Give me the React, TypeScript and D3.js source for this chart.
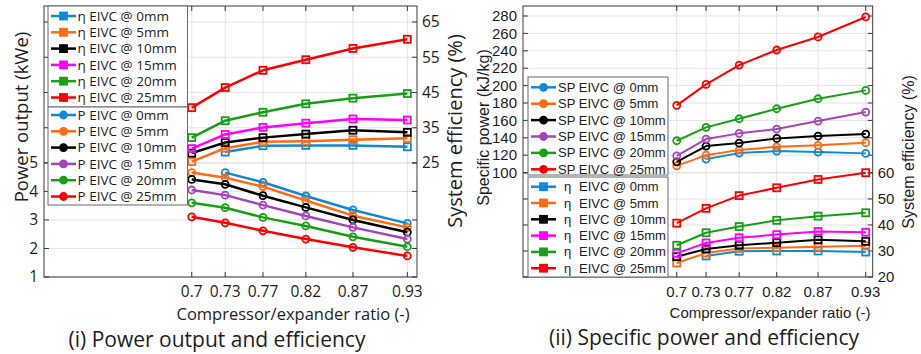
import React from "react";
import * as d3 from "d3";

// Compressor/expander ratio categories
const ratios = [0.7, 0.7357, 0.776, 0.8217, 0.872, 0.93];
const ratioLabels = ["0.7", "0.73", "0.77", "0.82", "0.87", "0.93"];
const lifts = ["0mm", "5mm", "10mm", "15mm", "20mm", "25mm"];

// System efficiency (%) per EIVC lift
const eff0 = [null, 28.1, 29.9, 30.0, 30.0, 29.6];
const eff5 = [25.4, 29.2, 31.0, 31.2, 31.6, 32.0];
const eff10 = [27.8, 30.8, 32.2, 33.2, 34.3, 33.7];
const eff15 = [29.1, 33.1, 35.1, 36.3, 37.5, 37.2];
const eff20 = [32.2, 37.0, 39.4, 41.8, 43.4, 44.7];
const eff25 = [40.7, 46.4, 51.3, 54.3, 57.5, 60.1];

// Power output (kWe) per EIVC lift
const pow0 = [null, 4.66, 4.32, 3.84, 3.35, 2.88];
const pow5 = [4.66, 4.48, 4.17, 3.68, 3.15, 2.74];
const pow10 = [4.42, 4.25, 3.85, 3.44, 3.0, 2.57];
const pow15 = [4.05, 3.87, 3.52, 3.14, 2.74, 2.33];
const pow20 = [3.6, 3.43, 3.09, 2.79, 2.41, 2.06];
const pow25 = [3.11, 2.9, 2.62, 2.33, 2.04, 1.74];

// Specific power (kJ/kg) per EIVC lift
const sp0 = [null, 115.5, 122.4, 124.7, 123.6, 122.1];
const sp5 = [107.8, 120.1, 125.9, 129.7, 131.3, 134.3];
const sp10 = [112.4, 130.5, 133.9, 139.3, 142.0, 144.3];
const sp15 = [119.3, 138.5, 145.1, 150.0, 159.2, 169.6];
const sp20 = [136.6, 152.0, 161.9, 173.4, 184.9, 194.5];
const sp25 = [177.3, 201.4, 223.6, 240.9, 255.9, 278.9];

const effSeries = [eff0, eff5, eff10, eff15, eff20, eff25];
const powSeries = [pow0, pow5, pow10, pow15, pow20, pow25];
const spSeries = [sp0, sp5, sp10, sp15, sp20, sp25];

// Tick values
const powTicks = [1, 2, 3, 4, 5];
const effTicksA = [25, 35, 45, 55, 65];
const spTicks = [100, 120, 140, 160, 180, 200, 220, 240, 260, 280];
const effTicksB = [20, 30, 40, 50, 60];

const effColors = ["#1089d6", "#ff6a14", "#000000", "#ff00ff", "#17a017", "#ff0000"];
const circColors = ["#1089d6", "#ff6a14", "#000000", "#a446b8", "#17a017", "#ff0000"];

const FONT_A = "'Open Sans', sans-serif";
const FONT_B = "'Liberation Sans', Arial, sans-serif";
const INK = "#1e1e1e";
const GRID = "#e3e3e3";
const AXIS = "#3a3a3a";

type Scale = d3.ScaleLinear<number, number>;

function Marker({ kind, x, y, color, size, fill }: { kind: string; x: number; y: number; color: string; size: number; fill: string }) {
  if (kind === "square") {
    return <rect x={x - size / 2} y={y - size / 2} width={size} height={size} fill={fill} stroke={color} strokeWidth={1.8} />;
  }
  return <circle cx={x} cy={y} r={size / 2} fill={fill} stroke={color} strokeWidth={1.8} />;
}

function Series({ values, color, kind, x, y, lw }: { values: (number | null)[]; color: string; kind: string; x: Scale; y: Scale; lw: number }) {
  const pts = ratios.map((r, i) => [r, values[i]] as [number, number | null]);
  const line = d3
    .line<[number, number | null]>()
    .defined((d) => d[1] != null)
    .x((d) => x(d[0]))
    .y((d) => y(d[1] as number));
  return (
    <g>
      <path d={line(pts) || ""} fill="none" stroke={color} strokeWidth={lw} strokeLinejoin="round" />
      {pts
        .filter((d) => d[1] != null)
        .map((d, i) => (
          <Marker key={i} kind={kind} x={x(d[0])} y={y(d[1] as number)} color={color} size={7} fill="none" />
        ))}
    </g>
  );
}

function Frame({
  x, yL, yR, ticksL, ticksR, labelL, labelR, font, fs, left, right, top, bottom,
}: {
  x: Scale; yL: Scale; yR: Scale; ticksL: number[]; ticksR: number[]; labelL: number[]; labelR: number[];
  font: string; fs: number; left: number; right: number; top: number; bottom: number;
}) {
  const tl = 5;
  const yPos = [...ticksL.map((t) => yL(t)), ...ticksR.map((t) => yR(t))];
  return (
    <g>
      {/* grid */}
      {ratios.map((r, i) => (
        <line key={"gx" + i} x1={x(r)} x2={x(r)} y1={top} y2={bottom} stroke={GRID} strokeWidth={1} />
      ))}
      {yPos.map((p, i) => (
        <line key={"gy" + i} x1={left} x2={right} y1={p} y2={p} stroke={GRID} strokeWidth={1} />
      ))}
      {/* ticks on both sides */}
      {yPos.map((p, i) => (
        <g key={"t" + i}>
          <line x1={left} x2={left + tl} y1={p} y2={p} stroke={AXIS} />
          <line x1={right} x2={right - tl} y1={p} y2={p} stroke={AXIS} />
        </g>
      ))}
      {ratios.map((r, i) => (
        <g key={"tx" + i}>
          <line x1={x(r)} x2={x(r)} y1={bottom} y2={bottom - tl} stroke={AXIS} />
          <line x1={x(r)} x2={x(r)} y1={top} y2={top + tl} stroke={AXIS} />
        </g>
      ))}
      <rect x={left} y={top} width={right - left} height={bottom - top} fill="none" stroke={AXIS} strokeWidth={1} />
      {/* tick labels */}
      {labelL.map((t, i) => (
        <text key={"ll" + i} x={left - 6} y={yL(t)} dy="0.35em" textAnchor="end" fontFamily={font} fontSize={fs} fill={INK}>
          {String(t)}
        </text>
      ))}
      {labelR.map((t, i) => (
        <text key={"lr" + i} x={right + 5} y={yR(t)} dy="0.35em" textAnchor="start" fontFamily={font} fontSize={fs} fill={INK}>
          {String(t)}
        </text>
      ))}
      {ratios.map((r, i) => (
        <text key={"lx" + i} x={x(r)} y={292} dy="0.35em" textAnchor="middle" fontFamily={font} fontSize={fs} fill={INK}>
          {ratioLabels[i]}
        </text>
      ))}
    </g>
  );
}

function LegendBox({
  x0, x1, y0, y1, rows, kind, colors, labels, font, fs, textX, etaGap,
}: {
  x0: number; x1: number; y0: number; y1: number; rows: number[]; kind: string; colors: string[];
  labels: string[]; font: string; fs: number; textX: number; etaGap?: number;
}) {
  const lx0 = x0 + 3;
  const lx1 = x0 + 28;
  const mx = (lx0 + lx1) / 2;
  return (
    <g>
      <rect x={x0} y={y0} width={x1 - x0} height={y1 - y0} fill="#ffffff" stroke="#6a6a6a" strokeWidth={1} />
      {rows.map((ry, i) => (
        <g key={i}>
          <line x1={lx0} x2={lx1} y1={ry} y2={ry} stroke={colors[i]} strokeWidth={2.5} />
          <Marker kind={kind} x={mx} y={ry} color={colors[i]} size={7} fill={colors[i]} />
          {etaGap ? (
            <text y={ry} dy="0.35em" fontFamily={font} fontSize={fs} fill={INK}>
              <tspan x={textX}>η</tspan>
              <tspan x={textX + etaGap}>{labels[i]}</tspan>
            </text>
          ) : (
            <text x={textX} y={ry} dy="0.35em" fontFamily={font} fontSize={fs} fill={INK}>
              {labels[i]}
            </text>
          )}
        </g>
      ))}
    </g>
  );
}

export default function App() {
  // Panel (i): power output and efficiency
  const A = { left: 44, right: 417, top: 6, bottom: 277 };
  const xA = d3.scaleLinear().domain([0.5424, 0.9403]).range([A.left, A.right]);
  const yPow = d3.scaleLinear().domain([1, 10.5]).range([A.bottom, A.top]);
  const yEffA = d3.scaleLinear().domain([-7.34, 69.54]).range([A.bottom, A.top]);

  // Panel (ii): specific power and efficiency
  const B = { left: 523, right: 872.7, top: 6, bottom: 277 };
  const xB = d3.scaleLinear().domain([0.5129, 0.9385]).range([B.left, B.right]);
  const ySp = d3.scaleLinear().domain([-20, 291.5]).range([B.bottom, B.top]);
  const yEffB = d3.scaleLinear().domain([20, 124.2]).range([B.bottom, B.top]);

  const rowsA1 = d3.range(6).map((i) => 16 + i * 16.3);
  const rowsA2 = d3.range(6).map((i) => 115 + i * 16.3);
  const rowsB1 = d3.range(6).map((i) => 87.3 + i * 16.4);
  const rowsB2 = d3.range(6).map((i) => 186.7 + i * 16.3);

  return (
    <svg width={921} height={354} style={{ position: "absolute", left: 0, top: 0, background: "#ffffff" }}>
      <rect x={0} y={0} width={921} height={354} fill="#ffffff" />

      {/* ---------- Panel (i) ---------- */}
      <Frame
        x={xA} yL={yPow} yR={yEffA} ticksL={powTicks} ticksR={effTicksA} labelL={powTicks} labelR={effTicksA}
        font={FONT_A} fs={15.5} {...A}
      />
      {effSeries.map((s, i) => (
        <Series key={"ea" + i} values={s} color={effColors[i]} kind="square" x={xA} y={yEffA} lw={2.5} />
      ))}
      {powSeries.map((s, i) => (
        <Series key={"pa" + i} values={s} color={circColors[i]} kind="circle" x={xA} y={yPow} lw={2.5} />
      ))}
      <LegendBox x0={48} x1={187.5} y0={6} y1={107} rows={rowsA1} kind="square" colors={effColors}
        labels={lifts.map((l) => "η EIVC @ " + l)} font={FONT_A} fs={13.5} textX={77.5} />
      <LegendBox x0={48} x1={187.5} y0={107} y1={205} rows={rowsA2} kind="circle" colors={circColors}
        labels={lifts.map((l) => "P EIVC @ " + l)} font={FONT_A} fs={13.5} textX={77.5} />
      <text transform="translate(22,117) rotate(-90)" dy="0.35em" textAnchor="middle" fontFamily={FONT_A} fontSize={18.5} fill={INK}>
        Power output (kWe)
      </text>
      <text transform="translate(455,131) rotate(-90)" dy="0.35em" textAnchor="middle" fontFamily={FONT_A} fontSize={20} fill={INK}>
        System efficiency (%)
      </text>
      <text x={293} y={314} dy="0.35em" textAnchor="middle" fontFamily={FONT_A} fontSize={16.5} fill={INK}>
        Compressor/expander ratio (-)
      </text>
      <text x={217} y={340} dy="0.35em" textAnchor="middle" fontFamily={FONT_A} fontSize={21} fill={INK}>
        (i) Power output and efficiency
      </text>

      {/* ---------- Panel (ii) ---------- */}
      <Frame
        x={xB} yL={ySp} yR={yEffB} ticksL={spTicks} ticksR={effTicksB} labelL={spTicks} labelR={effTicksB}
        font={FONT_B} fs={15} {...B}
      />
      {effSeries.map((s, i) => (
        <Series key={"eb" + i} values={s} color={effColors[i]} kind="square" x={xB} y={yEffB} lw={2} />
      ))}
      {spSeries.map((s, i) => (
        <Series key={"sb" + i} values={s} color={circColors[i]} kind="circle" x={xB} y={ySp} lw={2} />
      ))}
      <LegendBox x0={528} x1={668} y0={77} y1={175} rows={rowsB1} kind="circle" colors={circColors}
        labels={lifts.map((l) => "SP EIVC @ " + l)} font={FONT_B} fs={13} textX={558} />
      <LegendBox x0={528} x1={668} y0={177} y1={277} rows={rowsB2} kind="square" colors={effColors}
        labels={lifts.map((l) => "EIVC @ " + l)} font={FONT_B} fs={13} textX={564} etaGap={15} />
      <text transform="translate(483,127.5) rotate(-90)" dy="0.35em" textAnchor="middle" fontFamily={FONT_B} fontSize={16} fill={INK}>
        Specific power (kJ/kg)
      </text>
      <text transform="translate(908,152) rotate(-90)" dy="0.35em" textAnchor="middle" fontFamily={FONT_B} fontSize={16} fill={INK}>
        System efficiency (%)
      </text>
      <text x={770} y={313} dy="0.35em" textAnchor="middle" fontFamily={FONT_B} fontSize={15} fill={INK}>
        Compressor/expander ratio (-)
      </text>
      <text x={704} y={338} dy="0.35em" textAnchor="middle" fontFamily={FONT_A} fontSize={21} fill={INK}>
        (ii) Specific power and efficiency
      </text>
    </svg>
  );
}
